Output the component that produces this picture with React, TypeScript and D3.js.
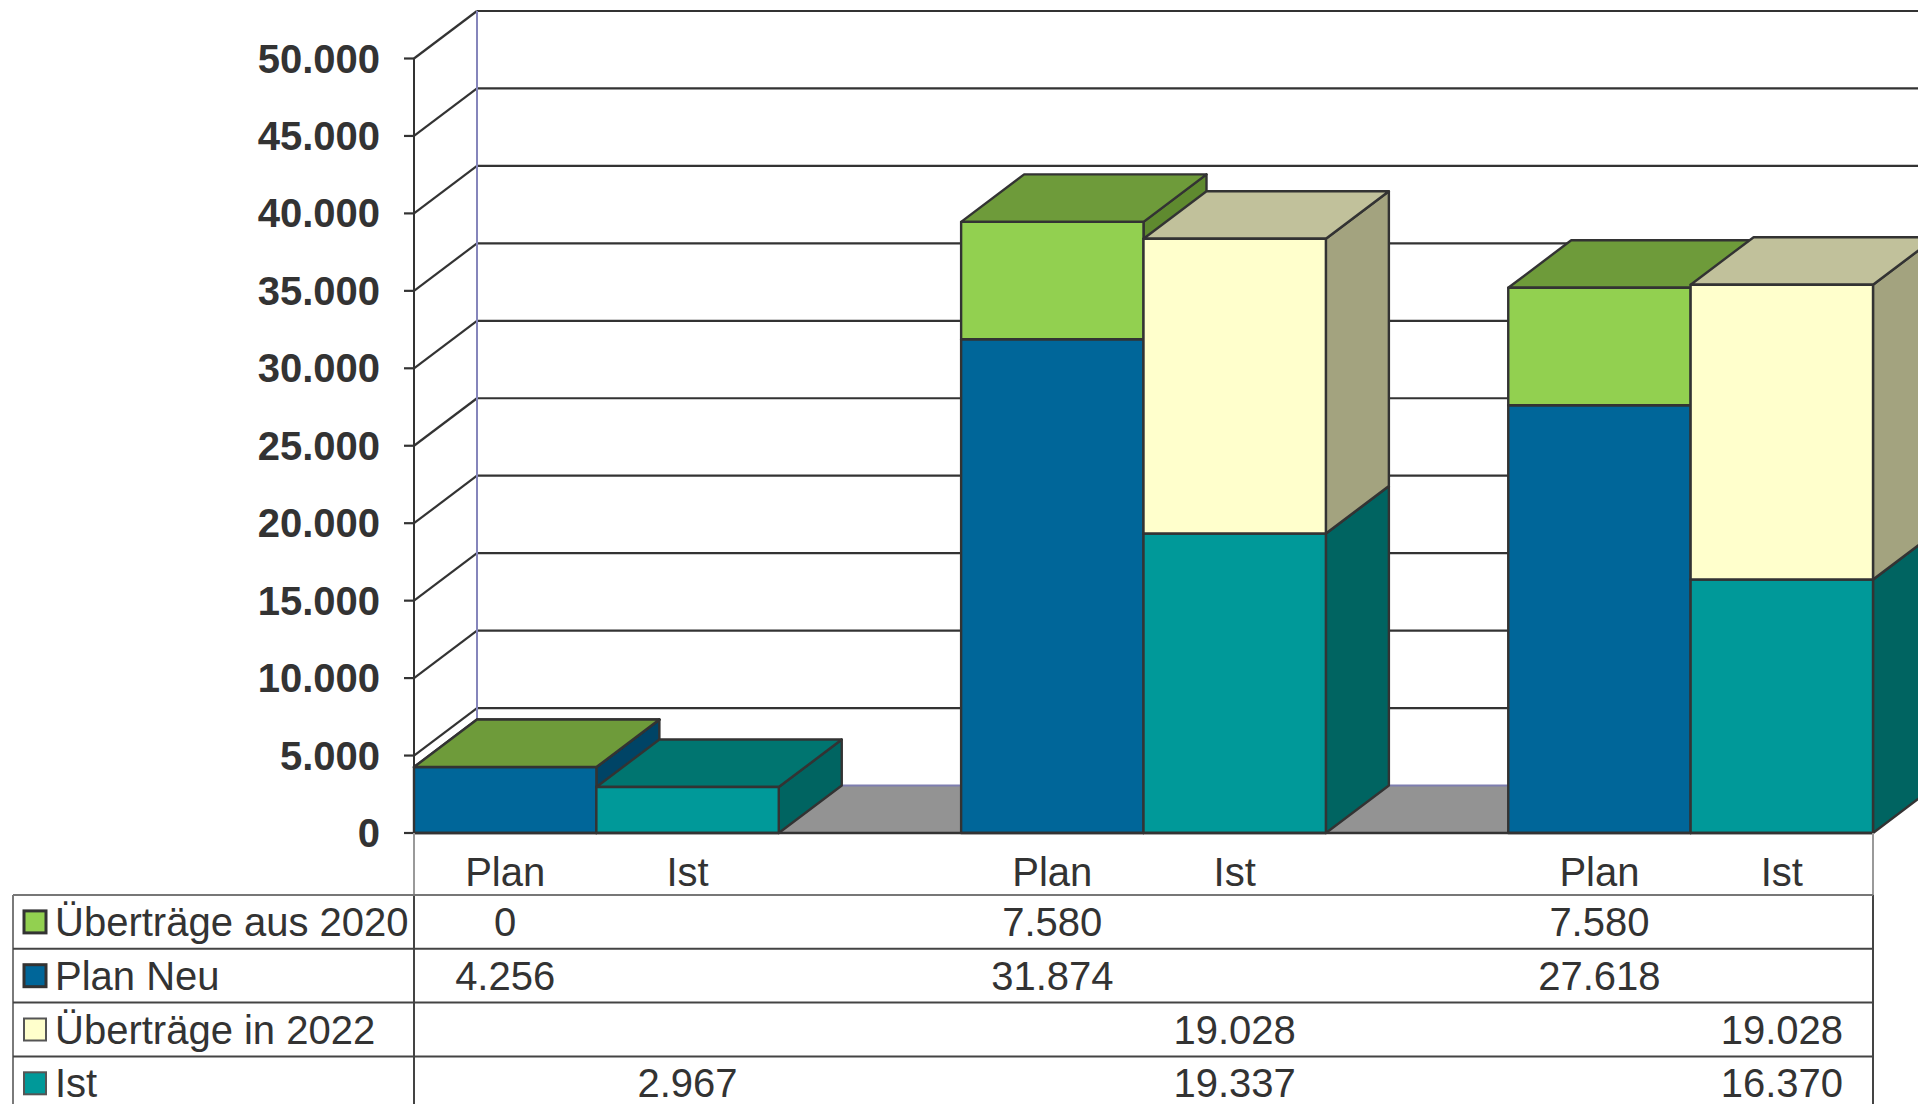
import React, { useEffect } from "react";
import * as d3 from "d3";

// Column categories (blank columns separate the three Plan/Ist pairs)
const categories = ["Plan", "Ist", "", "Plan", "Ist", "", "Plan", "Ist"];

// Series values per column (null = no value in that column)
const uebertraegeAus2020: (number | null)[] = [0, null, null, 7580, null, null, 7580, null];
const planNeu: (number | null)[] = [4256, null, null, 31874, null, null, 27618, null];
const uebertraegeIn2022: (number | null)[] = [null, null, null, null, 19028, null, null, 19028];
const ist: (number | null)[] = [null, 2967, null, null, 19337, null, null, 16370];

// Value axis ticks
const yTicks = [0, 5000, 10000, 15000, 20000, 25000, 30000, 35000, 40000, 45000, 50000];

type Series = {
  key: string;
  name: string;
  values: (number | null)[];
  front: string;
  top: string;
  side: string;
};

// Stacking order: base series first, carry-overs on top
const stackSeries: Series[] = [
  { key: "planNeu", name: "Plan Neu", values: planNeu, front: "#006699", top: "#004f78", side: "#004466" },
  { key: "ist", name: "Ist", values: ist, front: "#009999", top: "#007570", side: "#006461" },
  { key: "aus2020", name: "Überträge aus 2020", values: uebertraegeAus2020, front: "#92D050", top: "#6E9B3A", side: "#5F8A2F" },
  { key: "in2022", name: "Überträge in 2022", values: uebertraegeIn2022, front: "#FFFFCC", top: "#C1C19B", side: "#A3A37F" },
];

// Order of rows in the data table
const tableOrder = ["aus2020", "planNeu", "in2022", "ist"];

const W = 1918;
const H = 1104;
const DX = 63;
const DY = 47.5;
const FONT = "'Liberation Sans', Arial, sans-serif";
const INK = "#333333";
const FS = 40;

const de = d3.formatLocale({ decimal: ",", thousands: ".", grouping: [3], currency: ["", " €"] });
const fmt = de.format(",d");

export default function App() {
  useEffect(() => {
    document.body.style.margin = "0";
    document.body.style.overflow = "hidden";
  }, []);

  const y = d3.scaleLinear().domain([0, 50000]).range([833, 58.5]);
  const x = d3
    .scaleBand<string>()
    .domain(categories.map((_, i) => String(i)))
    .range([414, 1873])
    .paddingInner(0)
    .paddingOuter(0);
  const bw = x.bandwidth();
  const xLeft = x.range()[0];
  const xRight = x.range()[1];

  const rows = categories.map((_, i) => {
    const r: Record<string, number> = {};
    stackSeries.forEach((s) => (r[s.key] = s.values[i] ?? 0));
    return r;
  });
  const stacked = d3.stack<Record<string, number>>().keys(stackSeries.map((s) => s.key))(rows);

  const y0 = y(0);
  const yTop = y(50000);

  // Bars: left to right, bottom segment to top segment
  const bars: React.ReactNode[] = [];
  categories.forEach((_, i) => {
    const bx0 = x(String(i)) as number;
    const bx1 = bx0 + bw;
    stackSeries.forEach((s, si) => {
      if (s.values[i] == null) return;
      const seg = stacked[si][i];
      const yb = y(seg[0]);
      const yt = y(seg[1]);
      const topPts = [
        [bx0, yt],
        [bx1, yt],
        [bx1 + DX, yt - DY],
        [bx0 + DX, yt - DY],
      ];
      const sidePts = [
        [bx1, yb],
        [bx1, yt],
        [bx1 + DX, yt - DY],
        [bx1 + DX, yb - DY],
      ];
      bars.push(
        <g key={`${i}-${s.key}`} stroke={INK} strokeWidth={2.4} strokeLinejoin="round">
          <polygon points={sidePts.map((p) => p.join(",")).join(" ")} fill={s.side} />
          <polygon points={topPts.map((p) => p.join(",")).join(" ")} fill={s.top} />
          {yb - yt > 0 && <rect x={bx0} y={yt} width={bw} height={yb - yt} fill={s.front} />}
        </g>
      );
    });
  });

  // Data table geometry
  const tableTop = 895;
  const rowH = 53.8;
  const tableLeft = 13;
  const tableRows = tableOrder.map((k) => stackSeries.find((s) => s.key === k) as Series);

  return (
    <svg
      width={W}
      height={H}
      viewBox={`0 0 ${W} ${H}`}
      style={{ position: "absolute", left: 0, top: 0, background: "#ffffff" }}
      fontFamily={FONT}
    >
      <rect x={0} y={0} width={W} height={H} fill="#ffffff" />

      {/* floor */}
      <polygon
        points={[
          [xLeft, y0],
          [xRight, y0],
          [xRight + DX, y0 - DY],
          [xLeft + DX, y0 - DY],
        ]
          .map((p) => p.join(","))
          .join(" ")}
        fill="#939393"
      />
      <line x1={xLeft + DX} y1={y0 - DY} x2={W + 20} y2={y0 - DY} stroke="#7e7eb0" strokeWidth={2} />

      {/* back wall gridlines and side wall diagonals */}
      {yTicks.map((t) => (
        <g key={`g${t}`} stroke={INK} strokeWidth={2.2}>
          {t > 0 && <line x1={xLeft + DX} y1={y(t) - DY} x2={W + 20} y2={y(t) - DY} />}
          <line x1={xLeft} y1={y(t)} x2={xLeft + DX} y2={y(t) - DY} />
          <line x1={xLeft - 10} y1={y(t)} x2={xLeft} y2={y(t)} />
        </g>
      ))}
      <line x1={xLeft + DX} y1={yTop - DY} x2={xLeft + DX} y2={y0 - DY} stroke="#8585bb" strokeWidth={2} />
      <line x1={xLeft} y1={yTop} x2={xLeft} y2={y0} stroke={INK} strokeWidth={2} />

      {/* value axis labels */}
      {yTicks.map((t) => (
        <text
          key={`t${t}`}
          x={380}
          y={y(t)}
          textAnchor="end"
          dominantBaseline="central"
          fontSize={FS}
          fontWeight="bold"
          fill={INK}
        >
          {fmt(t)}
        </text>
      ))}

      {bars}

      {/* floor front edge */}
      <line x1={xLeft} y1={y0} x2={xRight} y2={y0} stroke={INK} strokeWidth={2.5} />

      {/* category labels */}
      {categories.map((c, i) => (
        <text
          key={`c${i}`}
          x={(x(String(i)) as number) + bw / 2}
          y={872}
          textAnchor="middle"
          dominantBaseline="central"
          fontSize={FS}
          fill={INK}
        >
          {c}
        </text>
      ))}

      {/* data table */}
      <g>
        <line x1={xLeft} y1={y0} x2={xLeft} y2={H} stroke="#9a9a9a" strokeWidth={2} />
        <line x1={xRight} y1={y0} x2={xRight} y2={H} stroke="#9a9a9a" strokeWidth={2} />
        <line x1={xLeft} y1={tableTop} x2={xLeft} y2={H} stroke="#444" strokeWidth={2} />
        <line x1={xRight} y1={tableTop} x2={xRight} y2={H} stroke="#444" strokeWidth={2} />
        <line x1={tableLeft} y1={tableTop} x2={tableLeft} y2={H} stroke="#7a7a7a" strokeWidth={2} />
        {tableRows.map((_, r) => (
          <line
            key={`rl${r}`}
            x1={tableLeft}
            y1={tableTop + r * rowH}
            x2={xRight}
            y2={tableTop + r * rowH}
            stroke={r === 0 ? "#777" : "#444"}
            strokeWidth={2}
          />
        ))}
        {tableRows.map((s, r) => {
          const cy = tableTop + (r + 0.5) * rowH;
          const dark = r < 2;
          return (
            <g key={`row${s.key}`}>
              <rect
                x={24}
                y={cy - 11}
                width={22}
                height={22}
                fill={s.front}
                stroke={dark ? INK : "#555"}
                strokeWidth={dark ? 3 : 2}
              />
              <text x={55} y={cy} dominantBaseline="central" fontSize={FS} fill={INK}>
                {s.name}
              </text>
              {s.values.map((v, i) =>
                v == null ? null : (
                  <text
                    key={`v${i}`}
                    x={(x(String(i)) as number) + bw / 2}
                    y={cy}
                    textAnchor="middle"
                    dominantBaseline="central"
                    fontSize={FS}
                    fill={INK}
                  >
                    {fmt(v)}
                  </text>
                )
              )}
            </g>
          );
        })}
      </g>
    </svg>
  );
}
